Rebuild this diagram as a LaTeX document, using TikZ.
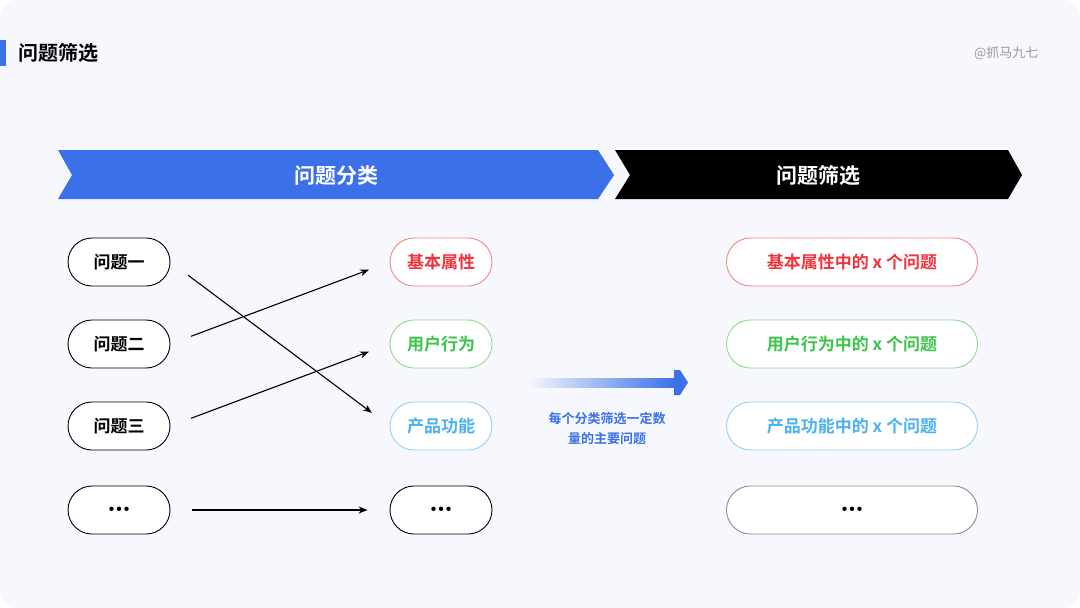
\documentclass[tikz,border=0pt]{standalone}
\usepackage{fontspec}
\newfontfamily\cjk{Noto Sans CJK SC}
\newfontfamily\cjkb{Noto Sans CJK SC Bold}
\usetikzlibrary{arrows.meta}
\definecolor{bg}{HTML}{F6F8FE}
\definecolor{blu}{HTML}{3B70E8}
\definecolor{rd}{HTML}{F0323C}
\definecolor{gr}{HTML}{3DC44A}
\definecolor{cy}{HTML}{4AB2F0}
\tikzset{
 pill/.style={draw=#1, rounded corners=24pt, minimum width=102pt, minimum height=48pt, line width=0.9pt, fill=white, font=\cjkb\fontsize{17}{19}\selectfont},
 wpill/.style={draw=#1, rounded corners=24pt, minimum width=251pt, minimum height=48pt, line width=0.9pt, fill=white, font=\cjkb\fontsize{17}{19}\selectfont},
 conn/.style={-{Stealth[length=9pt,width=7pt]}, line width=1.1pt, shorten <=22pt, shorten >=22pt}
}
\newcommand{\mydots}{\tikz[baseline=-0.5ex]{\foreach \i in {-7.5,0,7.5} \fill (\i pt,0) circle (2.2pt);}}
\begin{document}
\begin{tikzpicture}[x=1pt,y=-1pt]
\useasboundingbox (0,0) rectangle (1080,608);
\fill[bg, rounded corners=18pt] (0,0) rectangle (1080,608);
\fill[blu] (0,40) rectangle (6,66);
\node[anchor=west, font=\cjkb\fontsize{20}{22}\selectfont] (title) at (15,53) {问题筛选};
\node[anchor=east, text=black!40, font=\cjk\fontsize{13}{15}\selectfont] (wm) at (1042,53) {@抓马九七};
\fill[blu] (58,150) -- (598,150) -- (614,175) -- (598,199) -- (58,199) -- (72,175) -- cycle;
\fill[black] (615,150) -- (1008,150) -- (1022,175) -- (1008,199) -- (615,199) -- (630,175) -- cycle;
\node[text=white, font=\cjkb\fontsize{21}{23}\selectfont] (h1) at (336,176) {问题分类};
\node[text=white, font=\cjkb\fontsize{21}{23}\selectfont] (h2) at (818,176) {问题筛选};
\node[pill=black] (a1) at (119,262) {问题一};
\node[pill=black] (a2) at (119,344) {问题二};
\node[pill=black] (a3) at (119,426) {问题三};
\node[pill=black] (a4) at (119,510) {\mydots};
\node[pill=rd!60, text=rd] (b1) at (441,262) {基本属性};
\node[pill=gr!60, text=gr] (b2) at (441,344) {用户行为};
\node[pill=cy!60, text=cy] (b3) at (441,426) {产品功能};
\node[pill=black] (b4) at (441,510) {\mydots};
\node[wpill=rd!60, text=rd] (c1) at (852,262) {基本属性中的 x 个问题};
\node[wpill=gr!60, text=gr] (c2) at (852,344) {用户行为中的 x 个问题};
\node[wpill=cy!60, text=cy] (c3) at (852,426) {产品功能中的 x 个问题};
\node[wpill=black!45] (c4) at (852,510) {\mydots};
\draw[conn] (a1.east) -- (b3.west);
\draw[conn] (a2.east) -- (b1.west);
\draw[conn] (a3.east) -- (b2.west);
\draw[conn] (a4.east) -- (b4.west);
\shade[left color=bg, right color=blu] (528,378) rectangle (676,387);
\fill[blu] (674,370) -- (680,370) -- (688,382.5) -- (680,395) -- (674,395) -- cycle;
\node[text=blu, align=center, font=\cjkb\fontsize{13}{20}\selectfont] (note) at (607,428) {每个分类筛选一定数\\量的主要问题};
\end{tikzpicture}
\end{document}
